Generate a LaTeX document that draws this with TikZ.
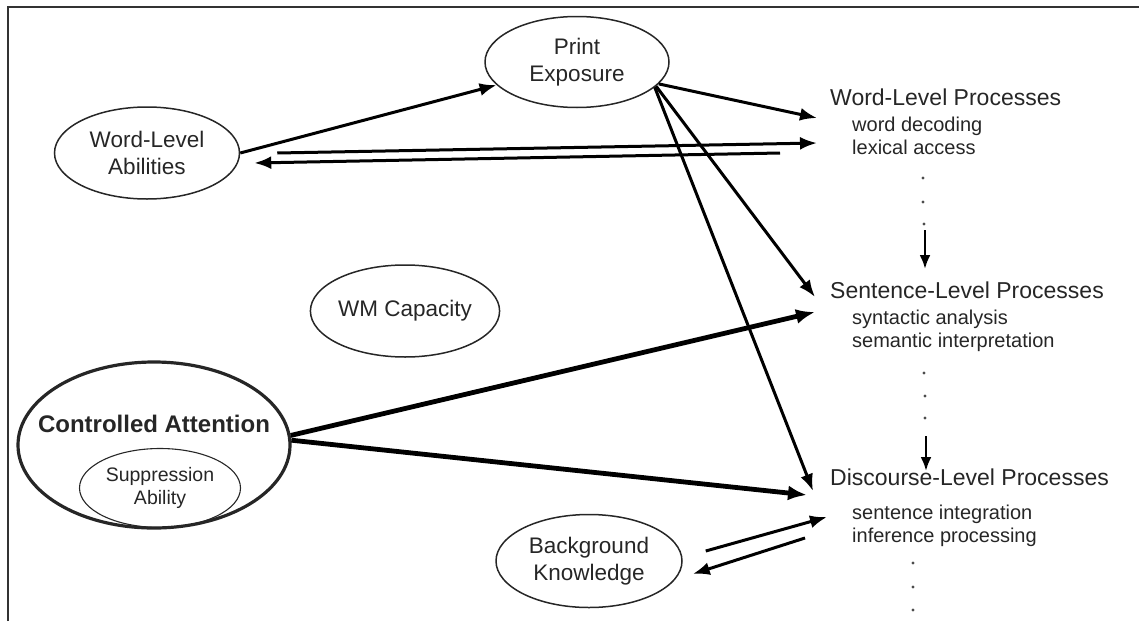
\documentclass[tikz,border=0pt]{standalone}
\usepackage{fontspec}
\setmainfont{Liberation Sans}
\usetikzlibrary{shapes.geometric,arrows.meta}
\begin{document}
\begin{tikzpicture}[x=1pt,y=-1pt,
  txt/.style={text=black!85, inner sep=0pt},
  oval/.style={draw=black!85, ellipse, inner sep=0pt, line width=1.5pt, align=center,
    text=black!85, font=\fontsize{22.5}{27}\selectfont},
  heading/.style={txt, anchor=west, font=\fontsize{23}{27}\selectfont},
  items/.style={txt, anchor=west, align=left, font=\fontsize{20}{23}\selectfont},
  link/.style={line width=3pt, -{Latex[length=17pt,width=13pt]}},
  boldlink/.style={line width=4.8pt, -{Latex[length=19pt,width=15pt]}},
  steparrow/.style={line width=2.6pt, -{Latex[length=14pt,width=11pt]}},
  dotmark/.style={fill=black!70, draw=none}
]
\useasboundingbox (0,0) rectangle (1139,621);
% frame
\draw[line width=1.8pt, black!80] (8,621) -- (8,7) -- (1139,7);

% latent constructs
\node[oval, minimum width=184pt, minimum height=91pt] (pe) at (577,62) {Print\\Exposure};
\node[oval, minimum width=185pt, minimum height=92pt] (wla) at (147,153) {Word-Level\\Abilities};
\node[oval, minimum width=185pt, minimum height=92pt] (wm) at (405,311) {WM Capacity};
\node[oval, line width=3.2pt, minimum width=272pt, minimum height=166pt] (ca) at (154,445) {};
\node[txt, font=\bfseries\fontsize{24}{28}\selectfont] (catitle) at (154,424) {Controlled Attention};
\node[oval, line width=1.1pt, minimum width=161pt, minimum height=79pt,
  font=\fontsize{19.5}{23}\selectfont] (sa) at (160,488) {Suppression\\Ability};
\node[oval, minimum width=186pt, minimum height=93pt] (bk) at (589,561) {Background\\Knowledge};

% processing levels
\node[heading] (wp) at (830,97) {Word-Level Processes};
\node[items] (wpi) at (852,136) {word decoding\\lexical access};
\node[heading] (sp) at (830,290) {Sentence-Level Processes};
\node[items] (spi) at (852,331) {syntactic analysis\\semantic interpretation};
\node[heading] (dp) at (830,477) {Discourse-Level Processes};
\node[items] (dpi) at (852,526) {sentence integration\\inference processing};

% continuation dots
\foreach \x/\y in {923/178, 923/202, 924/224, 924/373, 925/396, 925/418, 913/563, 913/587, 913/610}
  \fill[dotmark] (\x,\y) circle (1.7pt);

% arrow end points beside the process labels
\coordinate (wpin1) at (817,118);
\coordinate (wpin2) at (817,143);
\coordinate (wpout) at (780,153);
\coordinate (spin1) at (815,297);
\coordinate (spin2) at (815,312);
\coordinate (dpin1) at (813,491);
\coordinate (dpin2) at (807,495);
\coordinate (dpin3) at (827,517);
\coordinate (dpout) at (805,538);
\coordinate (ws1) at (925,230);
\coordinate (ws2) at (925,269);
\coordinate (sd1) at (926,436);
\coordinate (sd2) at (926,471);

% connections
\draw[link] (wla.east) -- (pe.196);
\draw[link] ([xshift=37pt]wla.east) -- (wpin2);
\draw[link] (wpout) -- ([shift={(14,10)}]wla.east);
\draw[link] (pe.-15) -- (wpin1);
\draw[link] (pe.-17) -- (spin1);
\draw[link] (pe.-18) -- (dpin1);
\draw[boldlink] (ca.4) -- (spin2);
\draw[boldlink] (ca.2) -- (dpin2);
\draw[link] ([shift={(23,-10)}]bk.east) -- (dpin3);
\draw[link] (dpout) -- ([shift={(10,13)}]bk.east);
\draw[steparrow] (ws1) -- (ws2);
\draw[steparrow] (sd1) -- (sd2);
\end{tikzpicture}
\end{document}
